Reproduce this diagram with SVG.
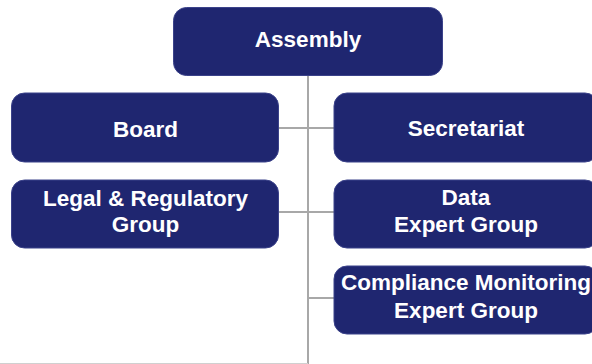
<svg xmlns="http://www.w3.org/2000/svg" width="592" height="364" viewBox="0 0 592 364">
<style>
.box{fill:#1f2670;stroke:#3b428a;stroke-width:1}
.t{font-family:"Liberation Sans",Arial,sans-serif;font-weight:bold;font-size:22.5px;fill:#ffffff;text-anchor:middle}
.c{stroke:#a8a8a8;stroke-width:2;fill:none}
</style>
<rect width="592" height="364" fill="#ffffff"/>
<g id="connectors">
<line class="c" x1="308" y1="76" x2="308" y2="364"/>
<line class="c" x1="279" y1="128" x2="334" y2="128"/>
<line class="c" x1="279" y1="212" x2="334" y2="212"/>
<line class="c" x1="308" y1="298" x2="334" y2="298"/>
<line x1="0" y1="363.5" x2="308" y2="363.5" stroke="#d0d0d0" stroke-width="1"/>
</g>
<g id="assembly">
<rect class="box" x="173.5" y="7.5" width="269" height="68" rx="13"/>
<text class="t" x="308" y="47">Assembly</text>
</g>
<g id="board">
<rect class="box" x="11.5" y="93" width="267" height="69" rx="13"/>
<text class="t" x="145.5" y="137">Board</text>
</g>
<g id="secretariat">
<rect class="box" x="334" y="93" width="264" height="69" rx="13"/>
<text class="t" x="466" y="136">Secretariat</text>
</g>
<g id="legal">
<rect class="box" x="11.5" y="180" width="267" height="68" rx="13"/>
<text class="t" x="145.5" y="206">Legal &amp; Regulatory</text>
<text class="t" x="145.5" y="232">Group</text>
</g>
<g id="data">
<rect class="box" x="334" y="180" width="264" height="68" rx="13"/>
<text class="t" x="466" y="205">Data</text>
<text class="t" x="466" y="232">Expert Group</text>
</g>
<g id="compliance">
<rect class="box" x="334" y="266" width="264" height="68" rx="13"/>
<text class="t" x="466" y="290">Compliance Monitoring</text>
<text class="t" x="466" y="318">Expert Group</text>
</g>
</svg>
